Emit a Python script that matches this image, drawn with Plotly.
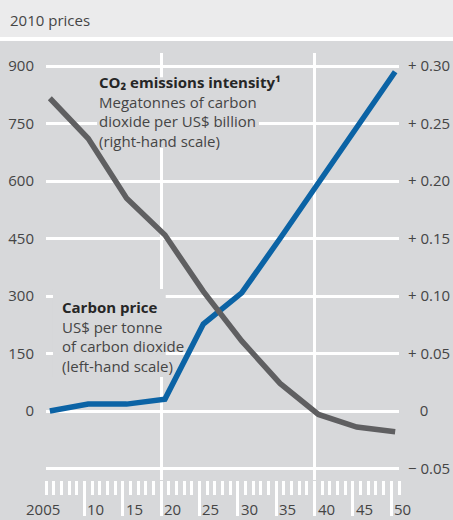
import plotly.graph_objects as go

# data (values plotted at mid-year)
years = [2005, 2010, 2015, 2020, 2025, 2030, 2035, 2040, 2045, 2050]
carbon_price = [0, 18, 18, 31, 227, 308, 450, 595, 740, 885]          # US$ per tonne CO2, left scale
co2_intensity = [0.272, 0.237, 0.185, 0.153, 0.104, 0.061, 0.024, -0.003, -0.014, -0.018]  # right scale

left_ticks = [0, 150, 300, 450, 600, 750, 900]
right_ticks = [-0.05, 0, 0.05, 0.10, 0.15, 0.20, 0.25, 0.30]
right_tick_text = ["\u2212 0.05", "\u00a0\u00a0\u00a00", "+ 0.05", "+ 0.10",
                   "+ 0.15", "+ 0.20", "+ 0.25", "+ 0.30"]
x_tick_years = [2005, 2010, 2015, 2020, 2025, 2030, 2035, 2040, 2045, 2050]
x_tick_text = ["2005", "10", "15", "20", "25", "30", "35", "40", "45", "50"]

BG = "#d7d8da"
BAND = "#ebebec"
TXT = "#454545"
BLUE = "#0b63a5"
GREY = "#5f5f61"
FONT = "Open Sans"

Y_RANGE = [-180, 934]
X_RANGE = [2005, 2051]
mid = [y + 0.5 for y in years]

fig = go.Figure()

fig.add_trace(go.Scatter(
    x=mid, y=carbon_price, mode="lines",
    line=dict(color=BLUE, width=5.5),
    xaxis="x", yaxis="y", hoverinfo="skip", showlegend=False,
))
fig.add_trace(go.Scatter(
    x=mid, y=co2_intensity, mode="lines",
    line=dict(color=GREY, width=5.5),
    xaxis="x2", yaxis="y2", hoverinfo="skip", showlegend=False,
))

annotations = []
# x tick labels, sitting to the right of the long ticks
for yr, txt in zip(x_tick_years, x_tick_text):
    first = yr == x_tick_years[0]
    annotations.append(dict(
        x=yr, y=-0.069, xref="x", yref="paper",
        text=txt, showarrow=False,
        xanchor="center" if first else "left", yanchor="middle",
        xshift=-3 if first else 1,
        font=dict(family=FONT, size=15, color=TXT),
    ))

annotations.append(dict(
    x=-0.1076, y=1.0768, xref="paper", yref="paper",
    text="2010 prices", showarrow=False, xanchor="left", yanchor="middle",
    font=dict(family=FONT, size=15, color=TXT),
))
annotations.append(dict(
    x=2011.78, y=888, xref="x", yref="y", showarrow=False,
    xanchor="left", yanchor="top", align="left", borderpad=0,
    text="<b><span style='color:#262626'>CO\u2082 emissions intensity\u00b9</span></b>"
         "<br>Megatonnes of carbon<br>dioxide per US$ billion<br>(right-hand scale)",
    font=dict(family=FONT, size=15, color=TXT),
))
annotations.append(dict(
    x=2006.95, y=301, xref="x", yref="y", showarrow=False,
    xanchor="left", yanchor="top", align="left", borderpad=0,
    text="<b><span style='color:#262626'>Carbon price</span></b>"
         "<br>US$ per tonne<br>of carbon dioxide<br>(left-hand scale)",
    font=dict(family=FONT, size=15, color=TXT),
))

shapes = [
    # top band and white separator
    dict(type="rect", xref="paper", yref="paper", x0=-0.2, x1=1.3, y0=1.0375, y1=1.2,
         fillcolor=BAND, line_width=0, layer="below"),
    dict(type="rect", xref="paper", yref="paper", x0=-0.2, x1=1.3, y0=1.0281, y1=1.0375,
         fillcolor="white", line_width=0, layer="below"),
    # label backgrounds that break the gridlines
    dict(type="rect", xref="x", yref="y", x0=2011.65, x1=2032.76, y0=686, y1=871,
         fillcolor=BG, line_width=0, layer="between"),
    dict(type="rect", xref="x", yref="y", x0=2005.91, x1=2020.6, y0=89, y1=318,
         fillcolor=BG, line_width=0, layer="between"),
]

fig.update_layout(
    width=453, height=520,
    margin=dict(l=46, r=54, t=53, b=40),
    paper_bgcolor=BG, plot_bgcolor=BG,
    font=dict(family=FONT, size=15, color=TXT),
    showlegend=False,
    xaxis=dict(
        range=X_RANGE, showgrid=False, zeroline=False, showline=False, automargin=False,
        tickmode="array", tickvals=x_tick_years[1:], showticklabels=False,
        ticks="outside", ticklen=35, tickwidth=3, tickcolor="white",
        minor=dict(tickmode="array", tickvals=list(range(2005, 2052)),
                   ticks="outside", ticklen=14, tickwidth=3, tickcolor="white",
                   showgrid=False),
    ),
    xaxis2=dict(
        range=X_RANGE, overlaying="x", anchor="y2", showticklabels=False, automargin=False,
        tickmode="array", tickvals=[2020, 2040], ticks="",
        showgrid=True, gridcolor="white", gridwidth=3, zeroline=False, showline=False,
    ),
    yaxis=dict(
        range=Y_RANGE, tickmode="array", tickvals=left_ticks, ticks="", automargin=False,
        showgrid=False, zeroline=False, showline=False, ticklabelstandoff=11,
        tickfont=dict(family=FONT, size=15, color=TXT),
    ),
    yaxis2=dict(
        range=[v / 3000 for v in Y_RANGE], overlaying="y", side="right", anchor="x2",
        tickmode="array", tickvals=right_ticks, ticktext=right_tick_text, ticks="",
        showgrid=True, gridcolor="white", gridwidth=3, zeroline=False, showline=False,
        ticklabelstandoff=8, automargin=False,
        tickfont=dict(family=FONT, size=15, color=TXT),
    ),
    annotations=annotations,
    shapes=shapes,
)

# page body has a default 8px margin; drop it so the 453x520 figure fills the window
fig.write_html("out.html", config={"displayModeBar": False},
               post_script="document.body.style.margin='0';")
